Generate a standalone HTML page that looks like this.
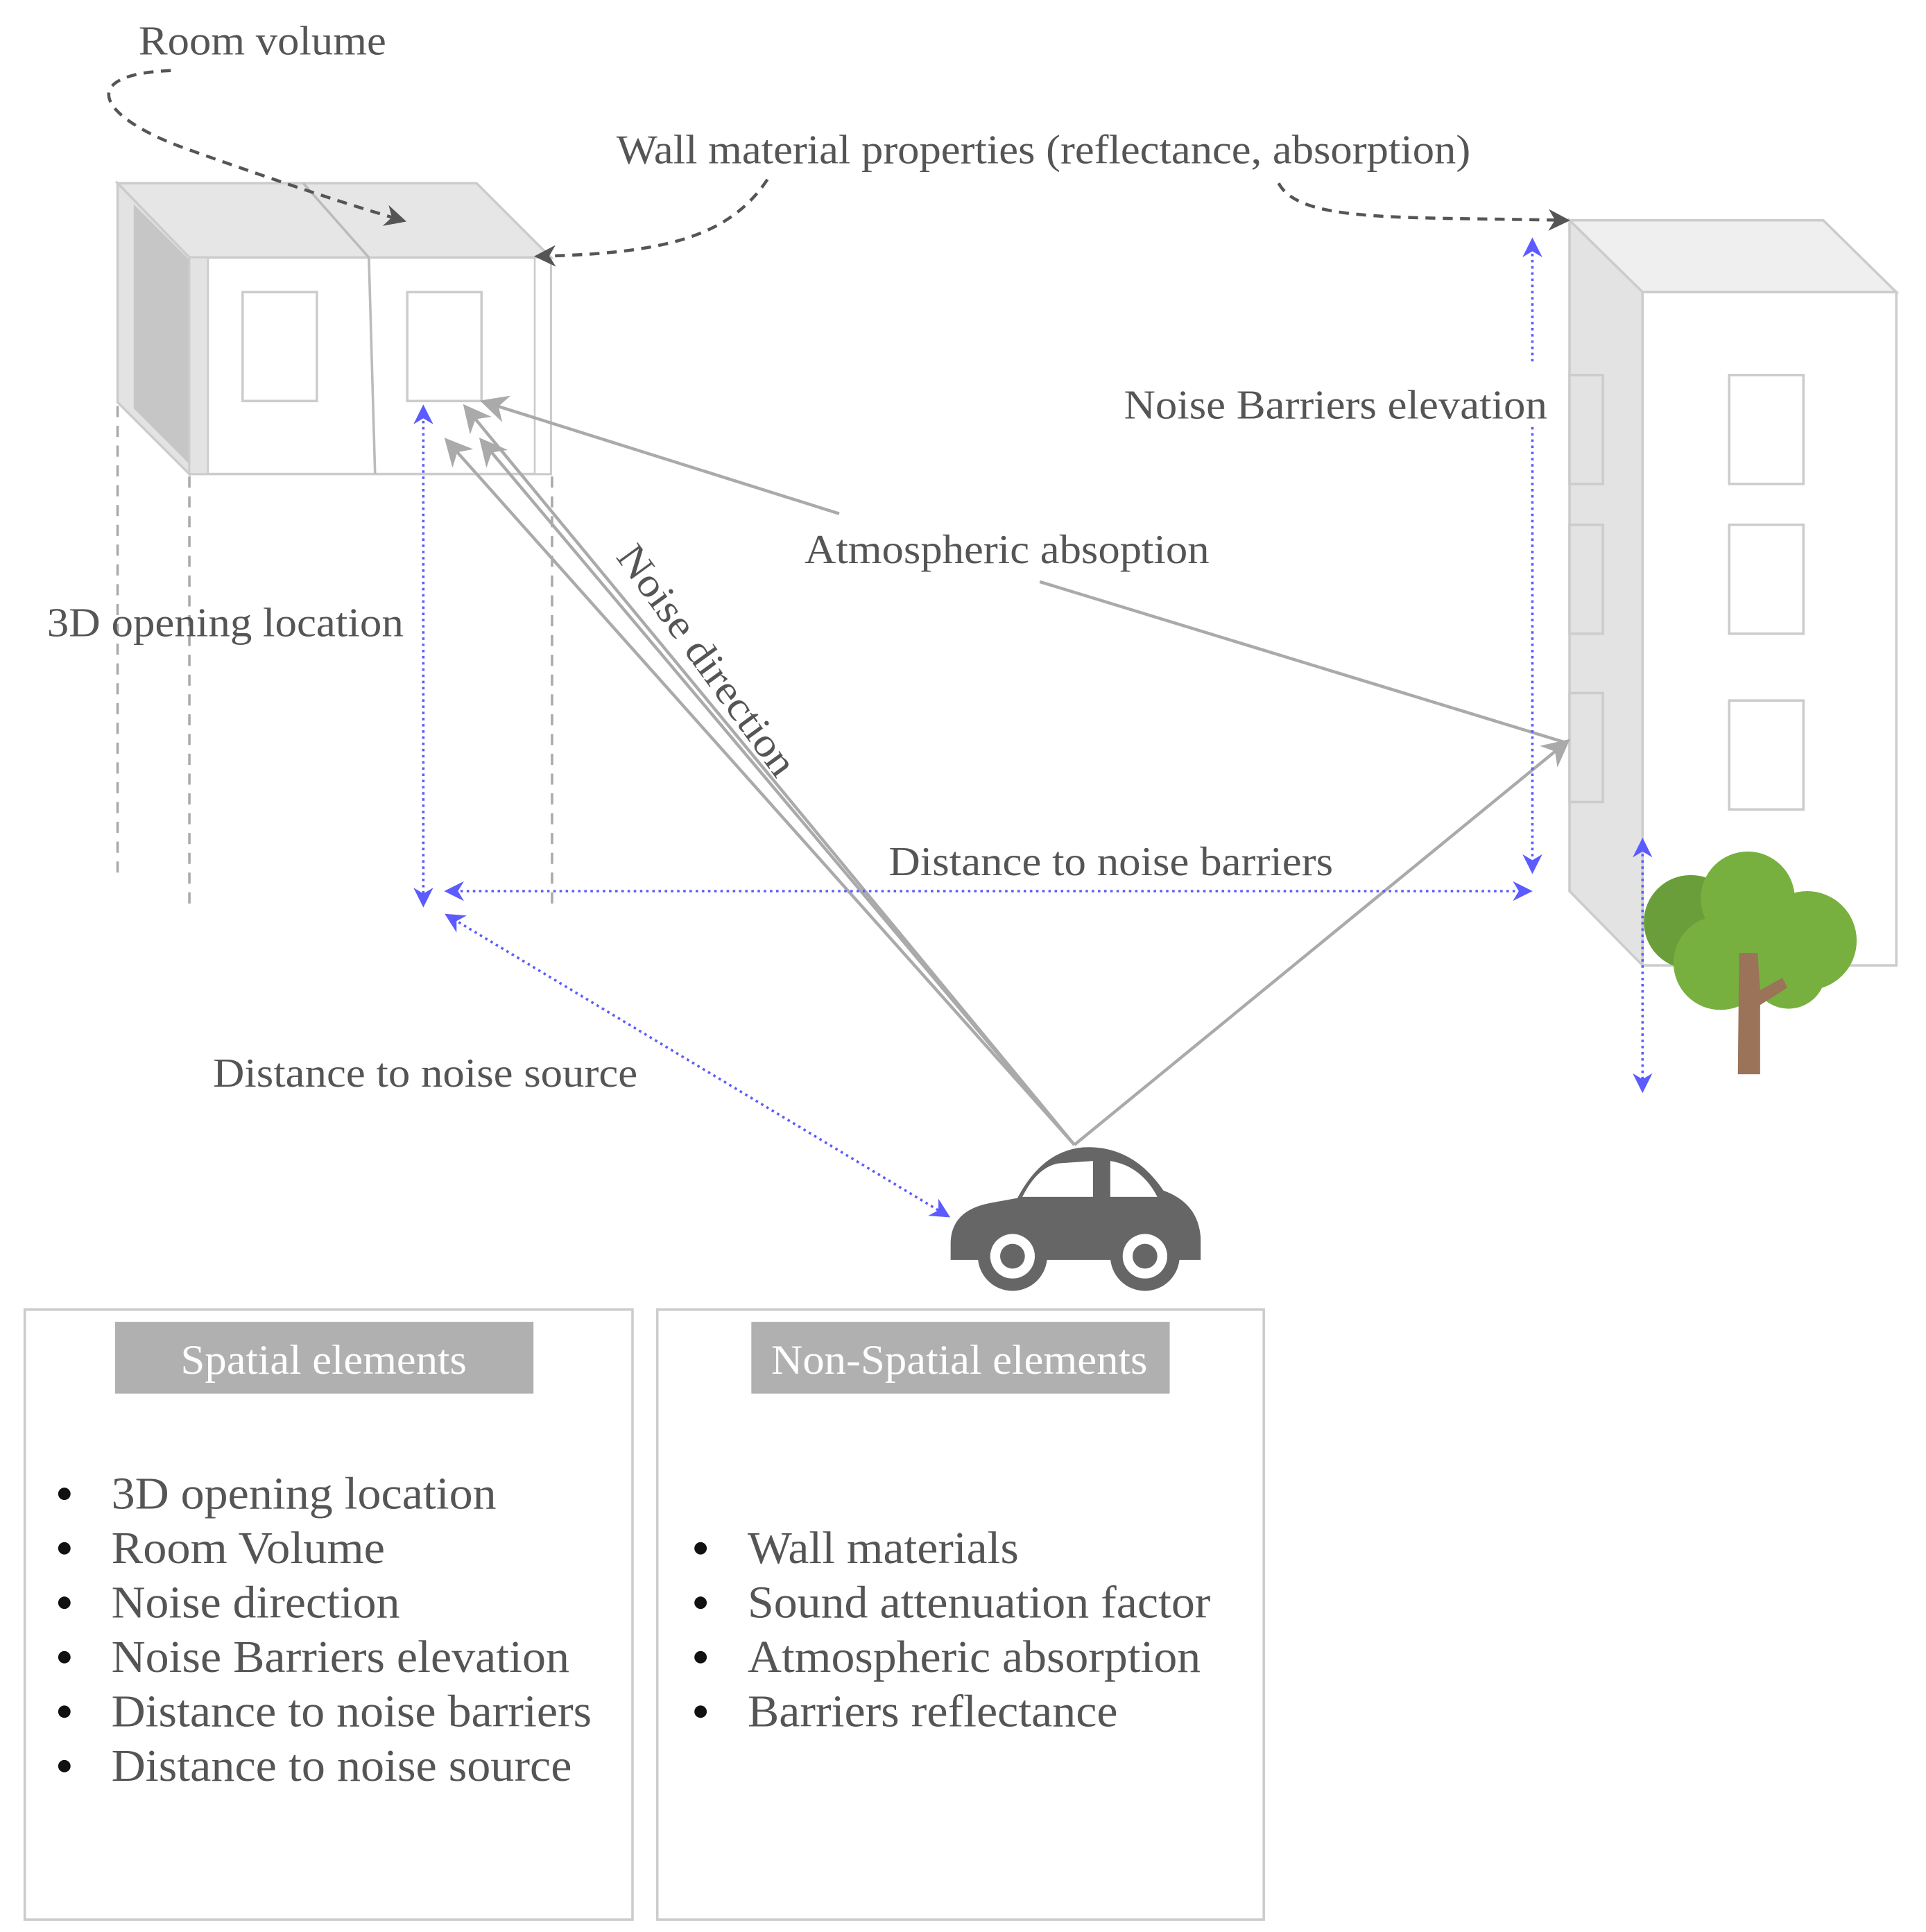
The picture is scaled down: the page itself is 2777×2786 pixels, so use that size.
<!DOCTYPE html>
<html><head><meta charset="utf-8"><style>
html,body{margin:0;padding:0;background:#fff}
svg{display:block}
text{font-family:"Liberation Serif",serif;fill:#555}
</style></head><body>
<svg width="2777" height="2786" viewBox="0 0 1556 1561" xmlns="http://www.w3.org/2000/svg">
<defs>
<marker id="ga" viewBox="0 0 10 10" refX="8" refY="5" markerWidth="7" markerHeight="7" orient="auto-start-reverse"><path d="M0,0 L10,5 L0,10 L3,5z" fill="#555"/></marker>
<marker id="ba" viewBox="0 0 10 10" refX="8" refY="5" markerWidth="8" markerHeight="8" orient="auto-start-reverse"><path d="M0,0 L10,5 L0,10 L3,5z" fill="#5b5bff"/></marker>
<marker id="la" viewBox="0 0 10 10" refX="8" refY="5" markerWidth="9" markerHeight="9" orient="auto-start-reverse"><path d="M0,0 L10,5 L0,10 L3,5z" fill="#aaa"/></marker>
</defs>

<!-- Left building -->
<polygon points="95,148 385,148 445,208 153,208" fill="#e6e6e6" stroke="#ccc" stroke-width="2"/>
<polygon points="95,148 153,208 153,383 95,325" fill="#e3e3e3" stroke="#ccc" stroke-width="2"/>
<polygon points="108,165 153,210 153,375 108,330" fill="#c6c6c6"/>
<rect x="153" y="208" width="292" height="175" fill="#fff" stroke="#ccc" stroke-width="2"/>
<rect x="153" y="208" width="15" height="175" fill="#e3e3e3" stroke="#ccc" stroke-width="1.5"/>
<rect x="432" y="208" width="13" height="175" fill="#fff" stroke="#ccc" stroke-width="1.5"/>
<line x1="245" y1="148" x2="298" y2="208" stroke="#bbb" stroke-width="2"/>
<line x1="298" y1="208" x2="303" y2="383" stroke="#bbb" stroke-width="2"/>
<rect x="196" y="236" width="60" height="88" fill="#fff" stroke="#ccc" stroke-width="2"/>
<rect x="329" y="236" width="60" height="88" fill="#fff" stroke="#ccc" stroke-width="2"/>
<g stroke="#aaa" stroke-width="2" stroke-dasharray="9,7">
<line x1="95" y1="328" x2="95" y2="710"/>
<line x1="153" y1="385" x2="153" y2="735"/>
<line x1="446" y1="385" x2="446" y2="735"/>
</g>

<!-- Right building -->
<polygon points="1268,178 1473,178 1532,236 1327,236" fill="#efefef" stroke="#ccc" stroke-width="2"/>
<polygon points="1268,178 1327,236 1327,780 1268,720" fill="#e3e3e3" stroke="#ccc" stroke-width="2"/>
<rect x="1327" y="236" width="205" height="544" fill="#fff" stroke="#ccc" stroke-width="2"/>
<rect x="1397" y="303" width="60" height="88" fill="#fff" stroke="#ccc" stroke-width="2"/>
<rect x="1397" y="424" width="60" height="88" fill="#fff" stroke="#ccc" stroke-width="2"/>
<rect x="1397" y="566" width="60" height="88" fill="#fff" stroke="#ccc" stroke-width="2"/>
<rect x="1268" y="303" width="27" height="88" fill="#e3e3e3" stroke="#ccc" stroke-width="2"/>
<rect x="1268" y="424" width="27" height="88" fill="#e3e3e3" stroke="#ccc" stroke-width="2"/>
<rect x="1268" y="560" width="27" height="88" fill="#e3e3e3" stroke="#ccc" stroke-width="2"/>

<!-- Tree -->
<circle cx="1366" cy="745" r="38" fill="#6a9e3a"/>
<circle cx="1412" cy="726" r="38" fill="#78b040"/>
<circle cx="1460" cy="760" r="40" fill="#78b040"/>
<circle cx="1390" cy="778" r="38" fill="#78b040"/>
<circle cx="1445" cy="785" r="30" fill="#78b040"/>
<path d="M1405,770 L1420,770 L1422,800 L1440,790 L1444,798 L1422,812 L1422,868 L1404,868z" fill="#9a7358"/>

<!-- Gray noise lines -->
<g stroke="#aaa" stroke-width="2.5" fill="none">
<line x1="868" y1="925" x2="362" y2="357" marker-end="url(#la)"/>
<line x1="868" y1="925" x2="377" y2="330" marker-end="url(#la)"/>
<line x1="868" y1="925" x2="390" y2="357" marker-end="url(#la)"/>
<line x1="868" y1="925" x2="1265" y2="600" marker-end="url(#la)"/>
<line x1="678" y1="415" x2="392" y2="325" marker-end="url(#la)"/>
<line x1="840" y1="470" x2="1265" y2="600"/>
</g>

<!-- Blue dotted arrows -->
<g stroke="#5b5bff" stroke-width="2" stroke-dasharray="2,3" fill="none">
<line x1="342" y1="330" x2="342" y2="730" marker-start="url(#ba)" marker-end="url(#ba)"/>
<line x1="362" y1="720" x2="1235" y2="720" marker-start="url(#ba)" marker-end="url(#ba)"/>
<line x1="362" y1="740" x2="765" y2="982" marker-start="url(#ba)" marker-end="url(#ba)"/>
<line x1="1238" y1="195" x2="1238" y2="295" marker-start="url(#ba)"/>
<line x1="1238" y1="345" x2="1238" y2="703" marker-end="url(#ba)"/>
<line x1="1327" y1="680" x2="1327" y2="880" marker-start="url(#ba)" marker-end="url(#ba)"/>
</g>

<!-- Dashed curves -->
<g stroke="#555" stroke-width="2.5" stroke-dasharray="8,6" fill="none">
<path d="M138,57 C60,60 80,95 150,120 S280,165 325,178" marker-end="url(#ga)"/>
<path d="M620,145 C590,190 540,205 435,207" marker-end="url(#ga)"/>
<path d="M1033,148 C1050,180 1130,175 1265,178" marker-end="url(#ga)"/>
</g>

<!-- Car -->
<path d="M768,1005 Q768,978 800,972 L822,968 Q842,930 875,927 Q915,925 940,962 Q968,972 970,1000 L970,1018 L768,1018z" fill="#666"/>
<path d="M826,967 Q838,943 855,940 L883,938 L883,967z" fill="#fff"/>
<path d="M897,938 Q922,942 935,967 L897,967z" fill="#fff"/>
<circle cx="818" cy="1015" r="28" fill="#666"/><circle cx="818" cy="1015" r="18" fill="#fff"/><circle cx="818" cy="1015" r="10" fill="#666"/>
<circle cx="925" cy="1015" r="28" fill="#666"/><circle cx="925" cy="1015" r="18" fill="#fff"/><circle cx="925" cy="1015" r="10" fill="#666"/>

<!-- Labels -->
<g font-size="33">
<text x="112" y="44" textLength="200" lengthAdjust="spacingAndGlyphs">Room volume</text>
<text x="498" y="132" textLength="690" lengthAdjust="spacingAndGlyphs">Wall material properties (reflectance, absorption)</text>
<text x="908" y="338" textLength="342" lengthAdjust="spacingAndGlyphs">Noise Barriers elevation</text>
<text x="650" y="455" textLength="327" lengthAdjust="spacingAndGlyphs">Atmospheric absoption</text>
<text x="38" y="514" textLength="288" lengthAdjust="spacingAndGlyphs">3D opening location</text>
<text x="718" y="707" textLength="359" lengthAdjust="spacingAndGlyphs">Distance to noise barriers</text>
<text x="172" y="878" textLength="343" lengthAdjust="spacingAndGlyphs">Distance to noise source</text>
<text x="0" y="0" transform="translate(497,450) rotate(54)" textLength="222" lengthAdjust="spacingAndGlyphs">Noise direction</text>
</g>

<!-- Boxes -->
<rect x="20" y="1058" width="491" height="493" fill="#fff" stroke="#ccc" stroke-width="2"/>
<rect x="531" y="1058" width="490" height="493" fill="#fff" stroke="#ccc" stroke-width="2"/>
<rect x="93" y="1068" width="338" height="58" fill="#b0b0b0"/>
<rect x="607" y="1068" width="338" height="58" fill="#b0b0b0"/>
<text x="146" y="1110" font-size="34" textLength="231" lengthAdjust="spacingAndGlyphs" style="fill:#fff">Spatial elements</text>
<text x="623" y="1110" font-size="34" textLength="304" lengthAdjust="spacingAndGlyphs" style="fill:#fff">Non-Spatial elements</text>
<g font-size="37">
<circle cx="52" cy="1207" r="5" fill="#111"/><text x="90" y="1219" textLength="311" lengthAdjust="spacingAndGlyphs">3D opening location</text>
<circle cx="52" cy="1251" r="5" fill="#111"/><text x="90" y="1263" textLength="221" lengthAdjust="spacingAndGlyphs">Room Volume</text>
<circle cx="52" cy="1295" r="5" fill="#111"/><text x="90" y="1307" textLength="233" lengthAdjust="spacingAndGlyphs">Noise direction</text>
<circle cx="52" cy="1339" r="5" fill="#111"/><text x="90" y="1351" textLength="370" lengthAdjust="spacingAndGlyphs">Noise Barriers elevation</text>
<circle cx="52" cy="1383" r="5" fill="#111"/><text x="90" y="1395" textLength="388" lengthAdjust="spacingAndGlyphs">Distance to noise barriers</text>
<circle cx="52" cy="1427" r="5" fill="#111"/><text x="90" y="1439" textLength="372" lengthAdjust="spacingAndGlyphs">Distance to noise source</text>
<circle cx="566" cy="1251" r="5" fill="#111"/><text x="604" y="1263" textLength="219" lengthAdjust="spacingAndGlyphs">Wall materials</text>
<circle cx="566" cy="1295" r="5" fill="#111"/><text x="604" y="1307" textLength="374" lengthAdjust="spacingAndGlyphs">Sound attenuation factor</text>
<circle cx="566" cy="1339" r="5" fill="#111"/><text x="604" y="1351" textLength="366" lengthAdjust="spacingAndGlyphs">Atmospheric absorption</text>
<circle cx="566" cy="1383" r="5" fill="#111"/><text x="604" y="1395" textLength="299" lengthAdjust="spacingAndGlyphs">Barriers reflectance</text>
</g>
</svg>
</body></html>
